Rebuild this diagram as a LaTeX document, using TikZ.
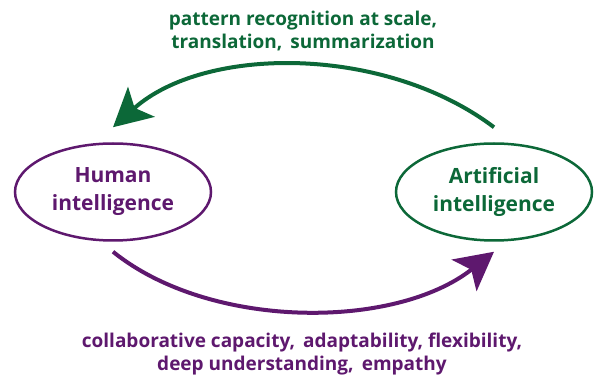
\documentclass[tikz,border=0pt]{standalone}
\usepackage{fontspec}
\setmainfont{Open Sans}
\usetikzlibrary{arrows.meta, shapes.geometric}
\definecolor{hipurple}{RGB}{94,24,110}
\definecolor{aigreen}{RGB}{12,104,56}

\begin{document}
\begin{tikzpicture}[x=1pt, y=-1pt,
		every node/.style={align=center, font=\bfseries},
		blob/.style={ellipse, draw, line width=2.5pt, minimum width=196pt, minimum height=97pt, inner sep=0pt, font=\fontsize{21}{28}\selectfont\bfseries},
		flow/.style={line width=4pt, -{Stealth[length=38pt, width=40pt, inset=9pt]}},
		caption/.style={font=\fontsize{19}{23.5}\selectfont\bfseries}]

			\useasboundingbox (0,0) rectangle (595,379);
			% Ellipses
			\node[blob, hipurple] (human) at (113,192) {Human\\intelligence};
			\node[blob, aigreen]  (ai)    at (494,192) {Artificial\\intelligence};
			% Labels
			\node[caption, aigreen]  (toplabel)    at (303,31)  {pattern recognition at scale,\\translation,\, summarization};
			\node[caption, hipurple] (bottomlabel) at (302,354) {collaborative capacity,\, adaptability, flexibility,\\deep understanding,\, empathy};
			% Arrows
			\draw[flow, aigreen]  ([yshift=15pt]ai.north) .. controls (385,45) and (205,45) .. ([yshift=15pt]human.north);
			\draw[flow, hipurple] ([yshift=-10pt]human.south) .. controls (210,330) and (395,330) .. ([yshift=-10pt]ai.south);
		\end{tikzpicture}
\end{document}
